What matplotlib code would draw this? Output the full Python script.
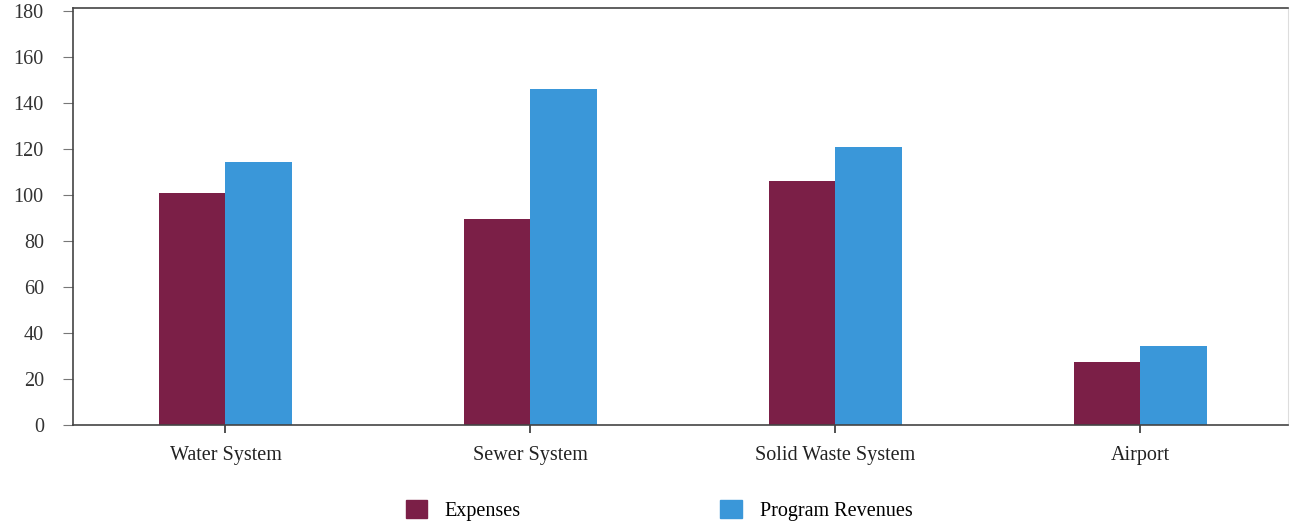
import numpy as np
import matplotlib.pyplot as plt
from matplotlib.patches import Patch

categories = ["Water System", "Sewer System", "Solid Waste System", "Airport"]
expenses = [101, 89.5, 106, 27.5]
revenues = [114.5, 146, 121, 34.5]
series_names = ["Expenses", "Program Revenues"]

plt.rcParams['font.family'] = ['Liberation Serif', 'DejaVu Serif']

exp_color = '#7b1f47'
rev_color = '#3a97d9'

fig = plt.figure(figsize=(12.93, 5.27), dpi=100)
ax = fig.add_axes([73 / 1293, 102 / 527, 1215 / 1293, 417 / 527])

x = np.arange(len(categories))
w = 0.218
ax.bar(x - w / 2, expenses, w, color=exp_color)
ax.bar(x + w / 2, revenues, w, color=rev_color)

ax.set_xlim(-0.5, 3.485)
ax.set_ylim(0, 181.3)
ax.set_yticks(np.arange(0, 181, 20))
ax.set_xticks(x)
ax.set_xticklabels(categories)

ax.tick_params(axis='y', length=7, width=0.8, color='#777777', pad=14, labelsize=14.5, labelcolor='#333333')
ax.tick_params(axis='x', length=6, width=1.2, color='#333333', pad=9, labelsize=14.5, labelcolor='#222222')

for side in ['left', 'bottom', 'top']:
    ax.spines[side].set_color('#444444')
    ax.spines[side].set_linewidth(1.2)
ax.spines['right'].set_color('#dddddd')
ax.spines['right'].set_linewidth(0.8)

handles = [Patch(color=exp_color), Patch(color=rev_color)]
fig.legend(handles, series_names, loc='center', bbox_to_anchor=(0.5097, 0.032), ncol=2, frameon=False,
           fontsize=14.5, handlelength=1.05, handleheight=1.0, handletextpad=0.9, columnspacing=9.9)

fig.savefig('out.png', dpi=100)
